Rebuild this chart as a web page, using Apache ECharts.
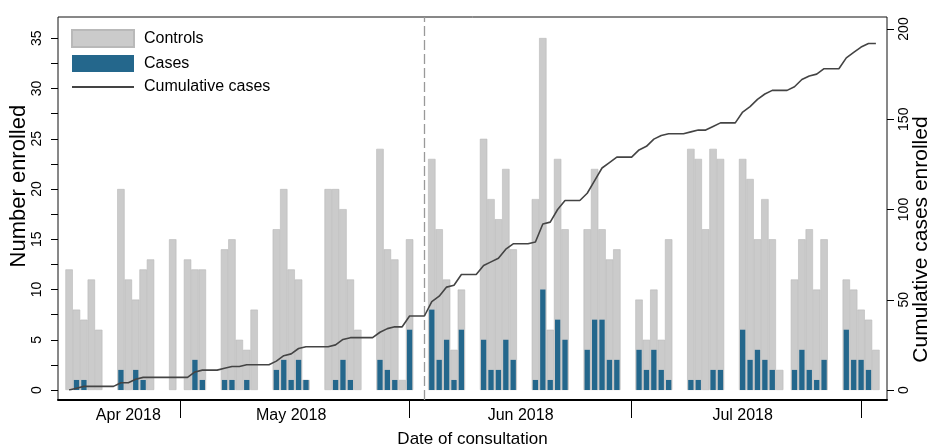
<!DOCTYPE html>
<html>
<head>
<meta charset="utf-8">
<title>Enrolment by date of consultation</title>
<script src="https://cdn.jsdelivr.net/npm/echarts@6/dist/echarts.min.js"></script>
<style>
  html, body { margin: 0; padding: 0; background: #fff; }
  #chart { width: 930px; height: 446px; }
</style>
</head>
<body>
<div id="chart"></div>
<script>
// every calendar day on the axis, Sun 15 Apr to Sat 4 Aug 2018
const days = [
  'Apr 15', 'Apr 16', 'Apr 17', 'Apr 18', 'Apr 19', 'Apr 20', 'Apr 21', 'Apr 22', 'Apr 23', 'Apr 24',
  'Apr 25', 'Apr 26', 'Apr 27', 'Apr 28', 'Apr 29', 'Apr 30',
  'May 1', 'May 2', 'May 3', 'May 4', 'May 5', 'May 6', 'May 7', 'May 8', 'May 9', 'May 10',
  'May 11', 'May 12', 'May 13', 'May 14', 'May 15', 'May 16', 'May 17', 'May 18', 'May 19', 'May 20',
  'May 21', 'May 22', 'May 23', 'May 24', 'May 25', 'May 26', 'May 27', 'May 28', 'May 29', 'May 30', 'May 31',
  'Jun 1', 'Jun 2', 'Jun 3', 'Jun 4', 'Jun 5', 'Jun 6', 'Jun 7', 'Jun 8', 'Jun 9', 'Jun 10',
  'Jun 11', 'Jun 12', 'Jun 13', 'Jun 14', 'Jun 15', 'Jun 16', 'Jun 17', 'Jun 18', 'Jun 19', 'Jun 20',
  'Jun 21', 'Jun 22', 'Jun 23', 'Jun 24', 'Jun 25', 'Jun 26', 'Jun 27', 'Jun 28', 'Jun 29', 'Jun 30',
  'Jul 1', 'Jul 2', 'Jul 3', 'Jul 4', 'Jul 5', 'Jul 6', 'Jul 7', 'Jul 8', 'Jul 9', 'Jul 10',
  'Jul 11', 'Jul 12', 'Jul 13', 'Jul 14', 'Jul 15', 'Jul 16', 'Jul 17', 'Jul 18', 'Jul 19', 'Jul 20',
  'Jul 21', 'Jul 22', 'Jul 23', 'Jul 24', 'Jul 25', 'Jul 26', 'Jul 27', 'Jul 28', 'Jul 29', 'Jul 30', 'Jul 31',
  'Aug 1', 'Aug 2', 'Aug 3', 'Aug 4'
];

// controls enrolled per day (null = nobody enrolled / weekend)
const controls = [
  null, 12, 8, 7, 11, 6, null, null,
  20, 11, 9, 12, 13, null, null,
  15, null, 13, 12, 12, null, null,
  14, 15, 5, 4, 8, null, null,
  16, 20, 12, 11, 1, null, null,
  20, 20, 18, 11, 6, null, null,
  24, 14, 13, 1, 15, null, null,
  23, 16, 11, 4, 10, null, null,
  25, 19, 17, 22, 14, null, null,
  19, 36, 6, 23, 16, null, null,
  16, 22, 16, 13, 14, null, null,
  9, 5, 10, 5, 15, null, null,
  24, 23, 16, 24, 23, null, null,
  23, 21, 15, 19, 15, 2, null,
  11, 15, 16, 10, 15, null, null,
  11, 10, 8, 7, 4, null
];

// cases enrolled per day
const cases = [
  null, 0, 1, 1, 0, 0, null, null,
  2, 0, 2, 1, 0, null, null,
  0, null, 0, 3, 1, null, null,
  1, 1, 0, 1, 0, null, null,
  2, 3, 1, 3, 1, null, null,
  0, 1, 3, 1, 0, null, null,
  3, 2, 1, 0, 6, null, null,
  8, 3, 5, 1, 6, null, null,
  5, 2, 2, 5, 3, null, null,
  1, 10, 1, 7, 5, null, null,
  4, 7, 7, 3, 3, null, null,
  4, 2, 4, 2, 1, null, null,
  1, 1, 0, 2, 2, null, null,
  6, 3, 4, 3, 2, 0, null,
  2, 4, 2, 1, 3, null, null,
  6, 3, 3, 2, 0, null
];

// running total of cases, drawn from the first to the last enrolment day
const firstDay = 'Apr 16';
const lastDay = 'Aug 3';
const cumulative = [];
let runningTotal = 0;
days.forEach((d, i) => {
  runningTotal += cases[i] || 0;
  const inRange = i >= days.indexOf(firstDay) && i <= days.indexOf(lastDay);
  cumulative.push(inRange ? runningTotal : null);
});

// axis labelling
const monthTickDays = ['May 1', 'Jun 1', 'Jul 1', 'Aug 1'];
const monthLabelDays = ['Apr 24', 'May 16', 'Jun 16', 'Jul 16'];
const monthLabels = ['Apr 2018', 'May 2018', 'Jun 2018', 'Jul 2018'];
const markerDay = 'Jun 3';

const tickIdx = monthTickDays.map(d => days.indexOf(d));
const labelIdx = monthLabelDays.map(d => days.indexOf(d));

const chart = echarts.init(document.getElementById('chart'));

// all three grids share the same plot box; titles may sit outside it
const gridBase = { left: 58, right: 43, outerBoundsMode: 'none' };

chart.setOption({
  animation: false,
  backgroundColor: '#fff',
  textStyle: { fontFamily: 'Liberation Sans, Arial, sans-serif', color: '#000' },
  legend: {
    orient: 'vertical',
    left: 71,
    top: 29,
    padding: 0,
    itemWidth: 62,
    itemHeight: 17,
    itemGap: 7,
    data: [
      { name: 'Controls', icon: 'rect' },
      { name: 'Cases', icon: 'rect' },
      { name: 'Cumulative cases', itemStyle: { opacity: 0 } }
    ],
    textStyle: { fontSize: 16, color: '#000', padding: [0, 0, 0, 5] }
  },
  grid: [
    // frame + date axis
    { ...gridBase, top: 17, bottom: 46, show: true, borderColor: '#111', borderWidth: 1 },
    // bars, left axis
    { ...gridBase, top: 38.3, bottom: 56 },
    // cumulative line, right axis
    { ...gridBase, top: 29, bottom: 56 }
  ],
  xAxis: [
    {
      gridIndex: 0,
      type: 'category',
      data: days,
      axisLine: { lineStyle: { color: '#000', width: 2 } },
      axisTick: {
        show: true,
        alignWithLabel: true,
        length: 18,
        interval: i => tickIdx.includes(i),
        lineStyle: { color: '#000', width: 1 }
      },
      axisLabel: {
        interval: i => labelIdx.includes(i),
        formatter: v => monthLabels[monthLabelDays.indexOf(v)] || '',
        fontSize: 16,
        color: '#000',
        margin: 8
      },
      name: 'Date of consultation',
      nameLocation: 'middle',
      nameGap: 31,
      nameMoveOverlap: false,
      nameTextStyle: { fontSize: 17, color: '#000' }
    },
    { gridIndex: 1, type: 'category', data: days, show: false },
    { gridIndex: 1, type: 'category', data: days, show: false },
    { gridIndex: 2, type: 'category', data: days, show: false }
  ],
  yAxis: [
    { gridIndex: 0, type: 'value', min: 0, max: 1, show: false },
    {
      gridIndex: 1,
      type: 'value',
      min: 0,
      max: 35,
      interval: 2.5,
      splitLine: { show: false },
      axisLine: { show: false },
      axisTick: { show: true, length: 7, lineStyle: { color: '#000' } },
      axisLabel: {
        rotate: 90,
        fontSize: 14,
        color: '#000',
        margin: 14,
        formatter: v => (v % 5 === 0 ? v : '')
      },
      name: 'Number enrolled',
      nameLocation: 'middle',
      nameGap: 28,
      nameMoveOverlap: false,
      nameTextStyle: { fontSize: 22, color: '#000', padding: [0, 0, 0, 56] }
    },
    {
      gridIndex: 2,
      type: 'value',
      position: 'right',
      min: 0,
      max: 200,
      interval: 50,
      splitLine: { show: false },
      axisLine: { show: false },
      axisTick: { show: true, length: 7, lineStyle: { color: '#000' } },
      axisLabel: { rotate: 90, fontSize: 14, color: '#000', margin: 10 },
      name: 'Cumulative cases enrolled',
      nameLocation: 'middle',
      nameGap: 24,
      nameMoveOverlap: false,
      nameTextStyle: { fontSize: 21, color: '#000', padding: [0, 60, 0, 0] }
    }
  ],
  series: [
    {
      // holds the dashed marker line across the whole frame
      name: 'marker',
      type: 'line',
      xAxisIndex: 0,
      yAxisIndex: 0,
      data: [],
      markLine: {
        silent: true,
        symbol: 'none',
        label: { show: false },
        lineStyle: { color: '#999', type: [10, 4], width: 1.3 },
        data: [{ xAxis: markerDay }]
      }
    },
    {
      name: 'Controls',
      type: 'bar',
      xAxisIndex: 1,
      yAxisIndex: 1,
      data: controls,
      barWidth: '100%',
      itemStyle: { color: '#cbcbcb', borderColor: '#b9b9b9', borderWidth: 0.6 }
    },
    {
      name: 'Cases',
      type: 'bar',
      xAxisIndex: 2,
      yAxisIndex: 1,
      data: cases,
      barWidth: 5.3,
      itemStyle: { color: '#24678c' }
    },
    {
      name: 'Cumulative cases',
      type: 'line',
      xAxisIndex: 3,
      yAxisIndex: 2,
      data: cumulative,
      symbol: 'none',
      z: 5,
      itemStyle: { color: '#444' },
      lineStyle: { color: '#444', width: 1.6 }
    }
  ]
});
</script>
</body>
</html>
